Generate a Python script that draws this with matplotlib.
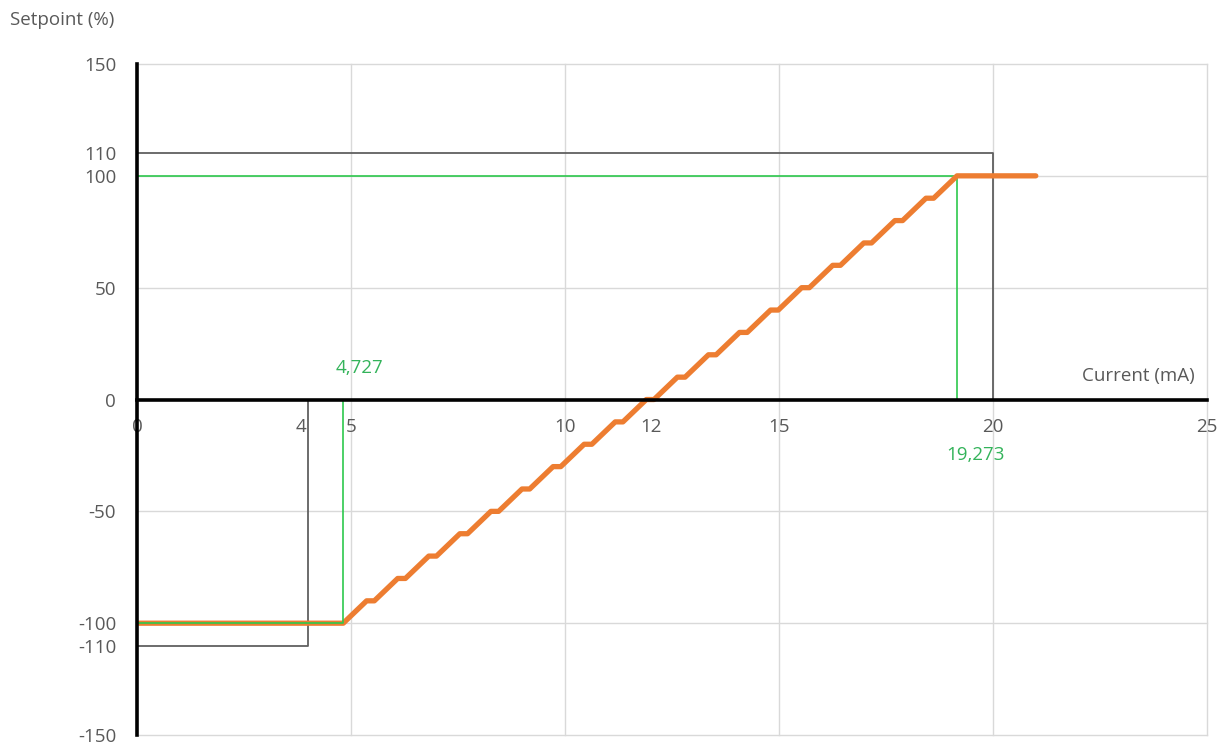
import matplotlib
matplotlib.use('Agg')
import matplotlib.pyplot as plt

plt.rcParams['font.family'] = ['Open Sans', 'DejaVu Sans']

# setpoint curve (corner points)
current_ma = [0.05, 4.82, 5.366, 5.546, 6.092, 6.272, 6.818, 6.998, 7.544, 7.724,
              8.270, 8.450, 8.996, 9.176, 9.722, 9.902, 10.448, 10.628, 11.174, 11.354,
              11.900, 12.080, 12.626, 12.806, 13.352, 13.532, 14.078, 14.258, 14.804, 14.984,
              15.530, 15.710, 16.256, 16.436, 16.982, 17.162, 17.708, 17.888, 18.434, 18.614,
              19.160, 21.0]
setpoint = [-100, -100, -90, -90, -80, -80, -70, -70, -60, -60,
            -50, -50, -40, -40, -30, -30, -20, -20, -10, -10,
            0, 0, 10, 10, 20, 20, 30, 30, 40, 40,
            50, 50, 60, 60, 70, 70, 80, 80, 90, 90,
            100, 100]

# limit frames (grey) and 100% markers (green)
low_lim_x = [0, 4, 4]
low_lim_y = [-110, -110, 0]
high_lim_x = [0, 20, 20]
high_lim_y = [110, 110, 0]
low_mark_x = [0, 4.82, 4.82]
low_mark_y = [-100, -100, 0]
high_mark_x = [0, 19.16, 19.16]
high_mark_y = [100, 100, 0]

x_ticks = [0, 4, 5, 10, 12, 15, 20, 25]
x_grid = [5, 10, 15, 20, 25]
y_ticks = [-150, -110, -100, -50, 0, 50, 100, 110, 150]
y_grid = [-150, -100, -50, 50, 100, 150]

grey_txt = '#595959'
green = '#2DC84D'
orange = '#ED7D31'
fs = 13.5

fig = plt.figure(figsize=(12.26, 7.46), dpi=100)
ax = fig.add_axes([0.1117, 0.0147, 0.8728, 0.8995])
ax.set_xlim(0, 25)
ax.set_ylim(-150, 150)

# grid
for gx in x_grid:
    ax.axvline(gx, color='#D9D9D9', lw=1, zorder=0, clip_on=False)
for gy in y_grid:
    ax.axhline(gy, color='#D9D9D9', lw=1, zorder=0, clip_on=False)

ax.plot(low_lim_x, low_lim_y, color='#606060', lw=1.3, zorder=2)
ax.plot(high_lim_x, high_lim_y, color='#606060', lw=1.3, zorder=2)

ax.plot(current_ma, setpoint, color=orange, lw=3.8, solid_capstyle='round',
        solid_joinstyle='round', zorder=3)

ax.plot(low_mark_x, low_mark_y, color=green, lw=1.2, zorder=4)
ax.plot(high_mark_x, high_mark_y, color=green, lw=1.2, zorder=2)

# axes through the origin
for s in ['top', 'right']:
    ax.spines[s].set_visible(False)
ax.spines['bottom'].set_position(('data', 0))
ax.spines['bottom'].set_linewidth(2.6)
ax.spines['left'].set_linewidth(2.6)
ax.spines['bottom'].set_zorder(5)
ax.spines['left'].set_zorder(5)

ax.set_xticks([])
ax.set_yticks(y_ticks)
ax.set_yticklabels([str(v) for v in y_ticks])
ax.tick_params(axis='y', length=0, pad=15, labelsize=fs, labelcolor=grey_txt)

for v in x_ticks:
    xpos = v
    if v == 4:
        xpos = 3.83
    ax.text(xpos, -12.5, str(v), ha='center', va='center', fontsize=fs, color=grey_txt)

ax.text(24.72, 10.5, 'Current (mA)', ha='right', va='center', fontsize=fs, color=grey_txt)
fig.text(0.008, 0.973, 'Setpoint (%)', ha='left', va='center', fontsize=fs, color=grey_txt)

ax.text(5.19, 14.3, '4,727', ha='center', va='center', fontsize=fs, color='#33B35A')
ax.text(19.58, -24.6, '19,273', ha='center', va='center', fontsize=fs, color='#33B35A')

fig.savefig('out.png', dpi=100)
